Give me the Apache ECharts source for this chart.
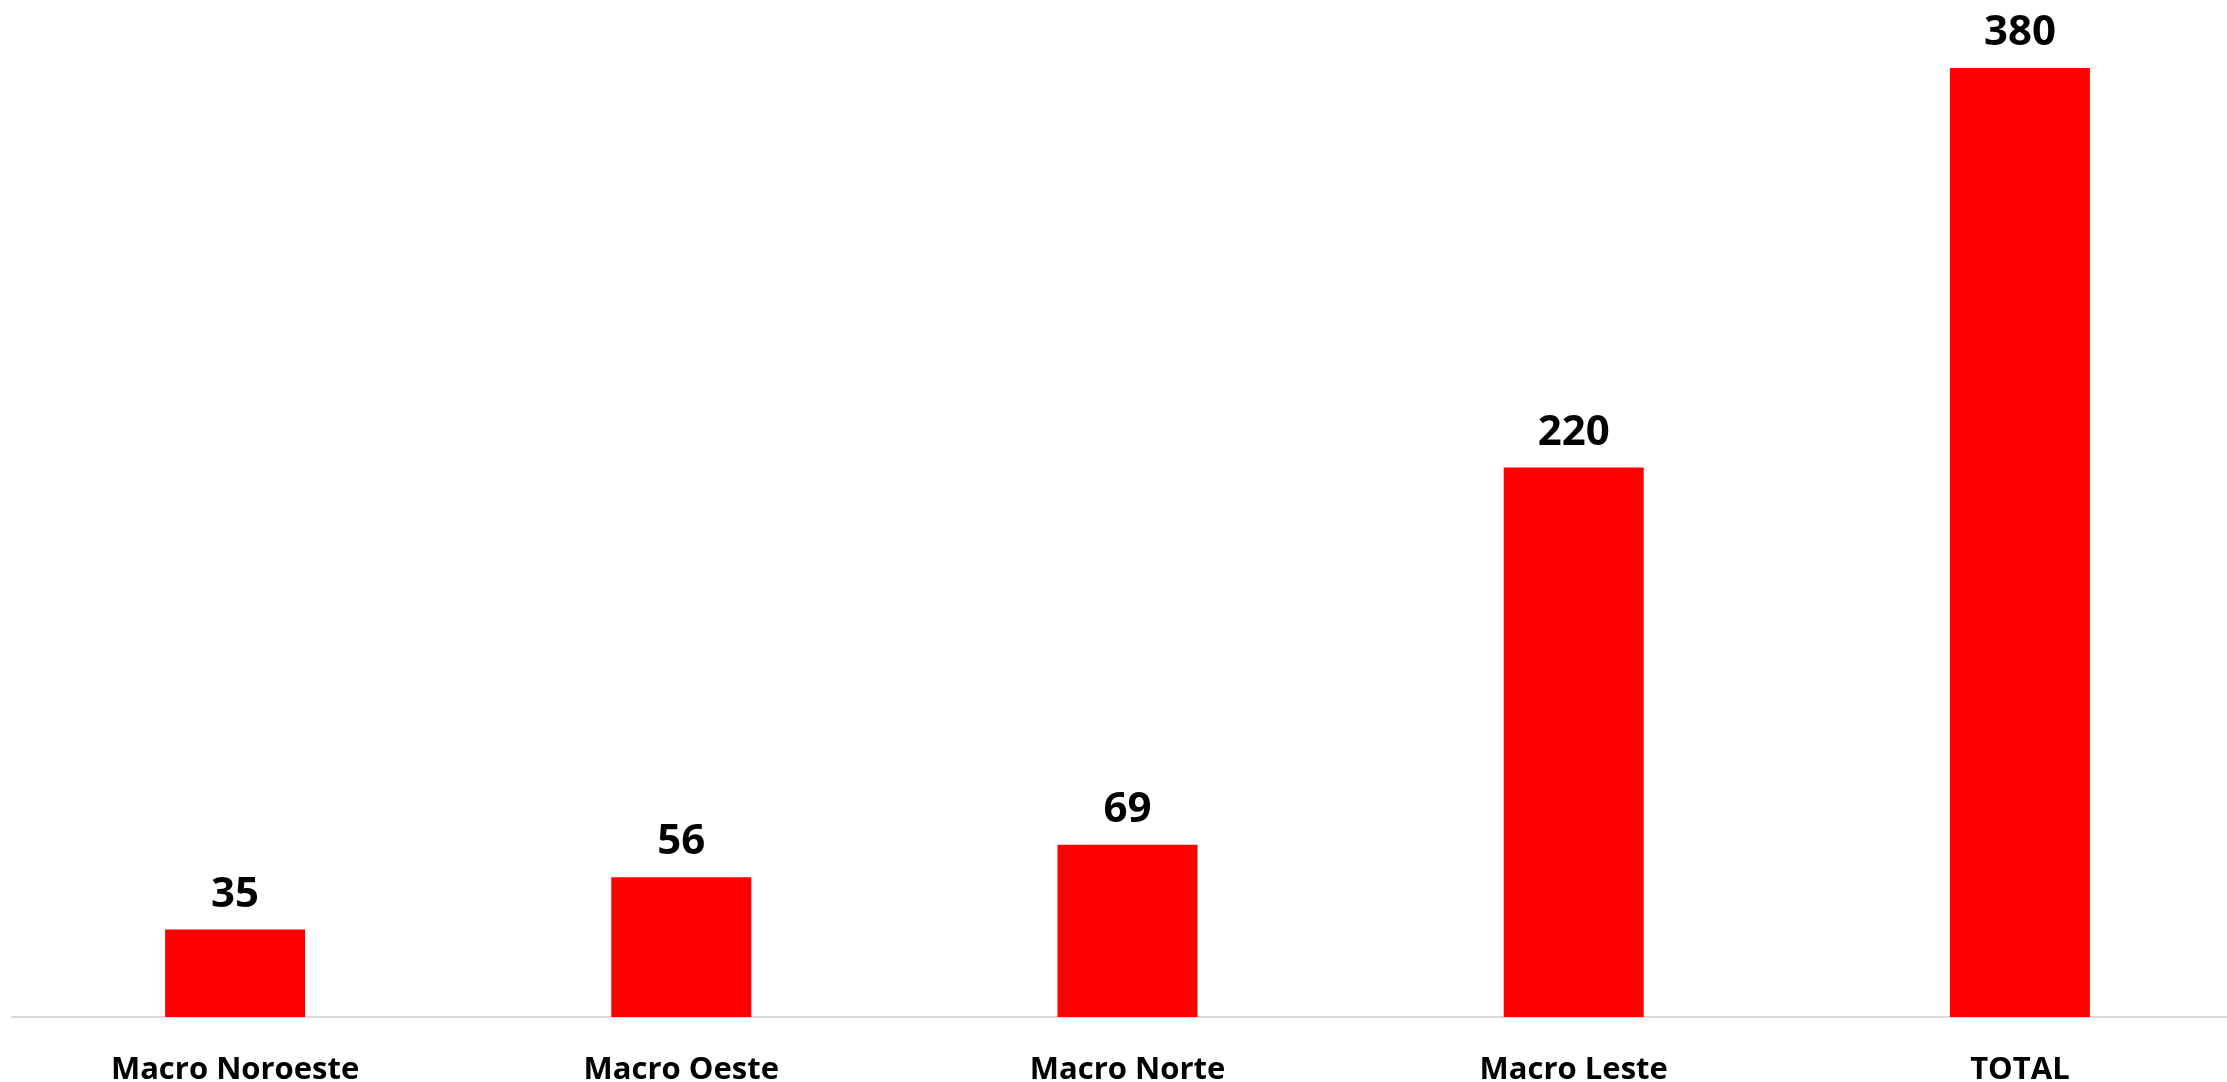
<!DOCTYPE html>
<html><head><meta charset="utf-8">
<script src="https://cdn.jsdelivr.net/npm/echarts@6/dist/echarts.min.js"></script>
<style>html,body{margin:0;padding:0;background:#fff;overflow:hidden}#c{width:2227px;height:1082px}</style>
</head><body><div id="c"></div>
<script>
const categories = ["Macro Noroeste", "Macro Oeste", "Macro Norte", "Macro Leste", "TOTAL"];
const values = [35, 56, 69, 220, 380];

const chart = echarts.init(document.getElementById('c'));
chart.setOption({
  animation: false,
  grid: { left: 12, width: 2231, top: 18, bottom: 65, containLabel: false, outerBoundsMode: 'none' },
  xAxis: {
    type: 'category', data: categories,
    axisLine: { show: true, lineStyle: { color: '#d9d9d9', width: 2 } },
    axisTick: { show: false },
    axisLabel: { color: '#000', fontFamily: 'Open Sans', fontWeight: 'bold', fontSize: 31, margin: 38 }
  },
  yAxis: { type: 'value', min: 0, max: 400, show: false, splitLine: { show: false } },
  series: [{
    type: 'bar', data: values, barWidth: 140,
    itemStyle: { color: '#ff0000' },
    label: { show: true, position: 'top', distance: 14, color: '#000', fontFamily: 'Open Sans', fontWeight: 'bold', fontSize: 42 }
  }]
});
</script></body></html>
